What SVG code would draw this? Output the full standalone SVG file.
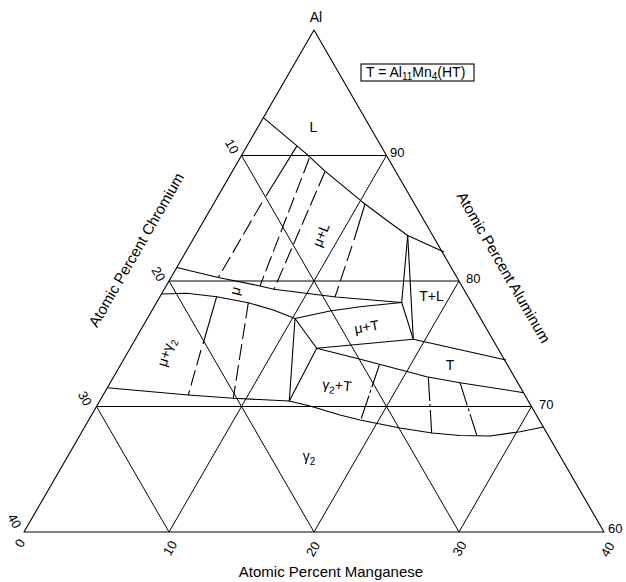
<svg xmlns="http://www.w3.org/2000/svg" width="626" height="582" viewBox="0 0 626 582">
<style>
.ln{fill:none;stroke:#000;stroke-width:1.1;stroke-linejoin:round;stroke-linecap:butt}
.gr{fill:none;stroke:#000;stroke-width:1}
.ds{stroke-dasharray:16 5}
.dd{stroke-dasharray:24 3 3 3}
text{font-family:"Liberation Sans",Arial,sans-serif;fill:#000}
.lb{font-size:14px;text-anchor:middle}
.tk{font-size:13px}
.tkc{font-size:13px;text-anchor:middle}
.ax{font-size:15px;text-anchor:middle}
.sb{font-size:10px}
</style>
<rect width="626" height="582" fill="#fff"/>

<g id="frame">
<polygon class="ln" points="314,30 24,532 604,532"/>
</g>

<g id="grid">
<line class="gr" x1="241.5" y1="155.5" x2="386.5" y2="155.5"/>
<line class="gr" x1="169" y1="281" x2="459" y2="281"/>
<line class="gr" x1="96.5" y1="406.5" x2="531.5" y2="406.5"/>
<line class="gr" x1="241.5" y1="155.5" x2="459" y2="532"/>
<line class="gr" x1="169" y1="281" x2="314" y2="532"/>
<line class="gr" x1="96.5" y1="406.5" x2="169" y2="532"/>
<line class="gr" x1="386.5" y1="155.5" x2="169" y2="532"/>
<line class="gr" x1="459" y1="281" x2="314" y2="532"/>
<line class="gr" x1="531.5" y1="406.5" x2="459" y2="532"/>
</g>

<g id="boundaries">
<path id="liquidus" class="ln" d="M263,117.3 L297,145.9 L307,154.3 L325,171.2 L362,201.7 L385,219 L407.7,235.5 L444,252"/>
<path id="tl-left" class="ln" d="M407.7,235.5 L401.7,302.5 L413.3,339.3"/>
<path id="tl-right" class="ln" d="M407.7,235.5 L413.3,339.3"/>
<path id="mu-upper" class="ln" d="M176.7,267.5 L218.3,277.5 L260,286 L274,289.3 L336,297 L401.7,302.5"/>
<path id="mu-lower" class="ln" d="M161.7,294 L186.7,293.3 L216.7,296.7 L248.3,302.7 L273.3,310 L295,318.5"/>
<path id="muT-upper" class="ln" d="M295,318.5 L330,311 L360,306.7 L401.7,302.5"/>
<path id="muT-lower" class="ln" d="M316.7,348.3 L413.3,339.3"/>
<path id="T-upper" class="ln" d="M413.3,339.3 L506,360"/>
<path id="T-lower" class="ln" d="M316.7,348.3 L363.3,360 L426.7,376.7 L460,382.7 L524,392.7"/>
<path id="tri" class="ln" d="M295,318.5 L316.7,348.3 L289.3,401 Z"/>
<path id="g2-upper" class="ln" d="M107,387.7 L188.3,395 L233.3,398.3 L289.3,401 L310,406 L340,415 L360,420 L400,428 L432,433 L460,435.5 L490,436 L520,431.7 L543.5,427"/>
</g>

<g id="tielines">
<path class="ln" d="M297,145.9 L266,196"/>
<path class="ln ds" d="M262,202.5 L218.3,277.5"/>
<path class="ln ds" d="M309.3,158.3 L260,286"/>
<path class="ln ds" d="M325,171.5 L274,289.3"/>
<path class="ln" d="M365,204 L354,240"/>
<path class="ln ds" d="M352,246 L335,297"/>
<path class="ln" d="M216.7,296.7 L203,344"/>
<path class="ln ds" d="M201,350 L188.3,395"/>
<path class="ln ds" d="M248.3,302.7 L233.3,398.3"/>
<path class="ln dd" d="M379.5,364.5 L360.7,420"/>
<path class="ln dd" d="M428.3,377 L431.7,433.3"/>
<path class="ln dd" d="M460,382.7 L477,436"/>
</g>

<g id="phase-labels">
<text class="lb" x="313.5" y="131.7">L</text>
<text class="lb" transform="translate(320.8,235) rotate(-68)" y="5">μ+L</text>
<text class="lb" transform="translate(236,291) rotate(-75)" y="4">μ</text>
<text class="lb" transform="translate(166.7,352.5) rotate(-72)" y="4">μ+γ<tspan class="sb" dy="4">2</tspan></text>
<text class="lb" transform="translate(366.7,326.7) rotate(-10)" y="5">μ+T</text>
<text class="lb" x="431.5" y="301">T+L</text>
<text class="lb" x="450" y="370">T</text>
<text class="lb" transform="translate(337,386) rotate(5)" y="4">γ<tspan class="sb" dy="4">2</tspan><tspan dy="-4">+T</tspan></text>
<text class="lb" x="309" y="461">γ<tspan class="sb" dy="4">2</tspan></text>
</g>

<g id="axis-labels">
<text class="lb" x="316" y="22">Al</text>
<text class="tk" x="390" y="157">90</text>
<text class="tk" x="466" y="283">80</text>
<text class="tk" x="539" y="409">70</text>
<text class="tk" x="608" y="533">60</text>
<text class="tkc" transform="translate(232,146.5) rotate(60)" y="4.5">10</text>
<text class="tkc" transform="translate(158.5,274) rotate(60)" y="4.5">20</text>
<text class="tkc" transform="translate(85,398.5) rotate(60)" y="4.5">30</text>
<text class="tkc" transform="translate(14.5,521) rotate(60)" y="4.5">40</text>
<text class="tkc" transform="translate(20,543) rotate(-60)" y="4.5">0</text>
<text class="tkc" transform="translate(170,548) rotate(-60)" y="4.5">10</text>
<text class="tkc" transform="translate(313,549) rotate(-60)" y="4.5">20</text>
<text class="tkc" transform="translate(459.5,548.5) rotate(-60)" y="4.5">30</text>
<text class="tkc" transform="translate(607.5,549.5) rotate(-60)" y="4.5">40</text>
<text class="ax" x="331" y="577">Atomic Percent Manganese</text>
<text class="ax" transform="translate(136.5,250) rotate(-60)" y="5">Atomic Percent Chromium</text>
<text class="ax" transform="translate(503.5,267.5) rotate(60)" y="5">Atomic Percent Aluminum</text>
</g>

<g id="legend">
<rect x="361" y="64" width="113" height="17" fill="none" stroke="#000" stroke-width="1.1"/>
<text x="366" y="77" font-size="14">T = Al<tspan class="sb" dy="3">11</tspan><tspan dy="-3">Mn</tspan><tspan class="sb" dy="3">4</tspan><tspan dy="-3">(HT)</tspan></text>
</g>
</svg>
